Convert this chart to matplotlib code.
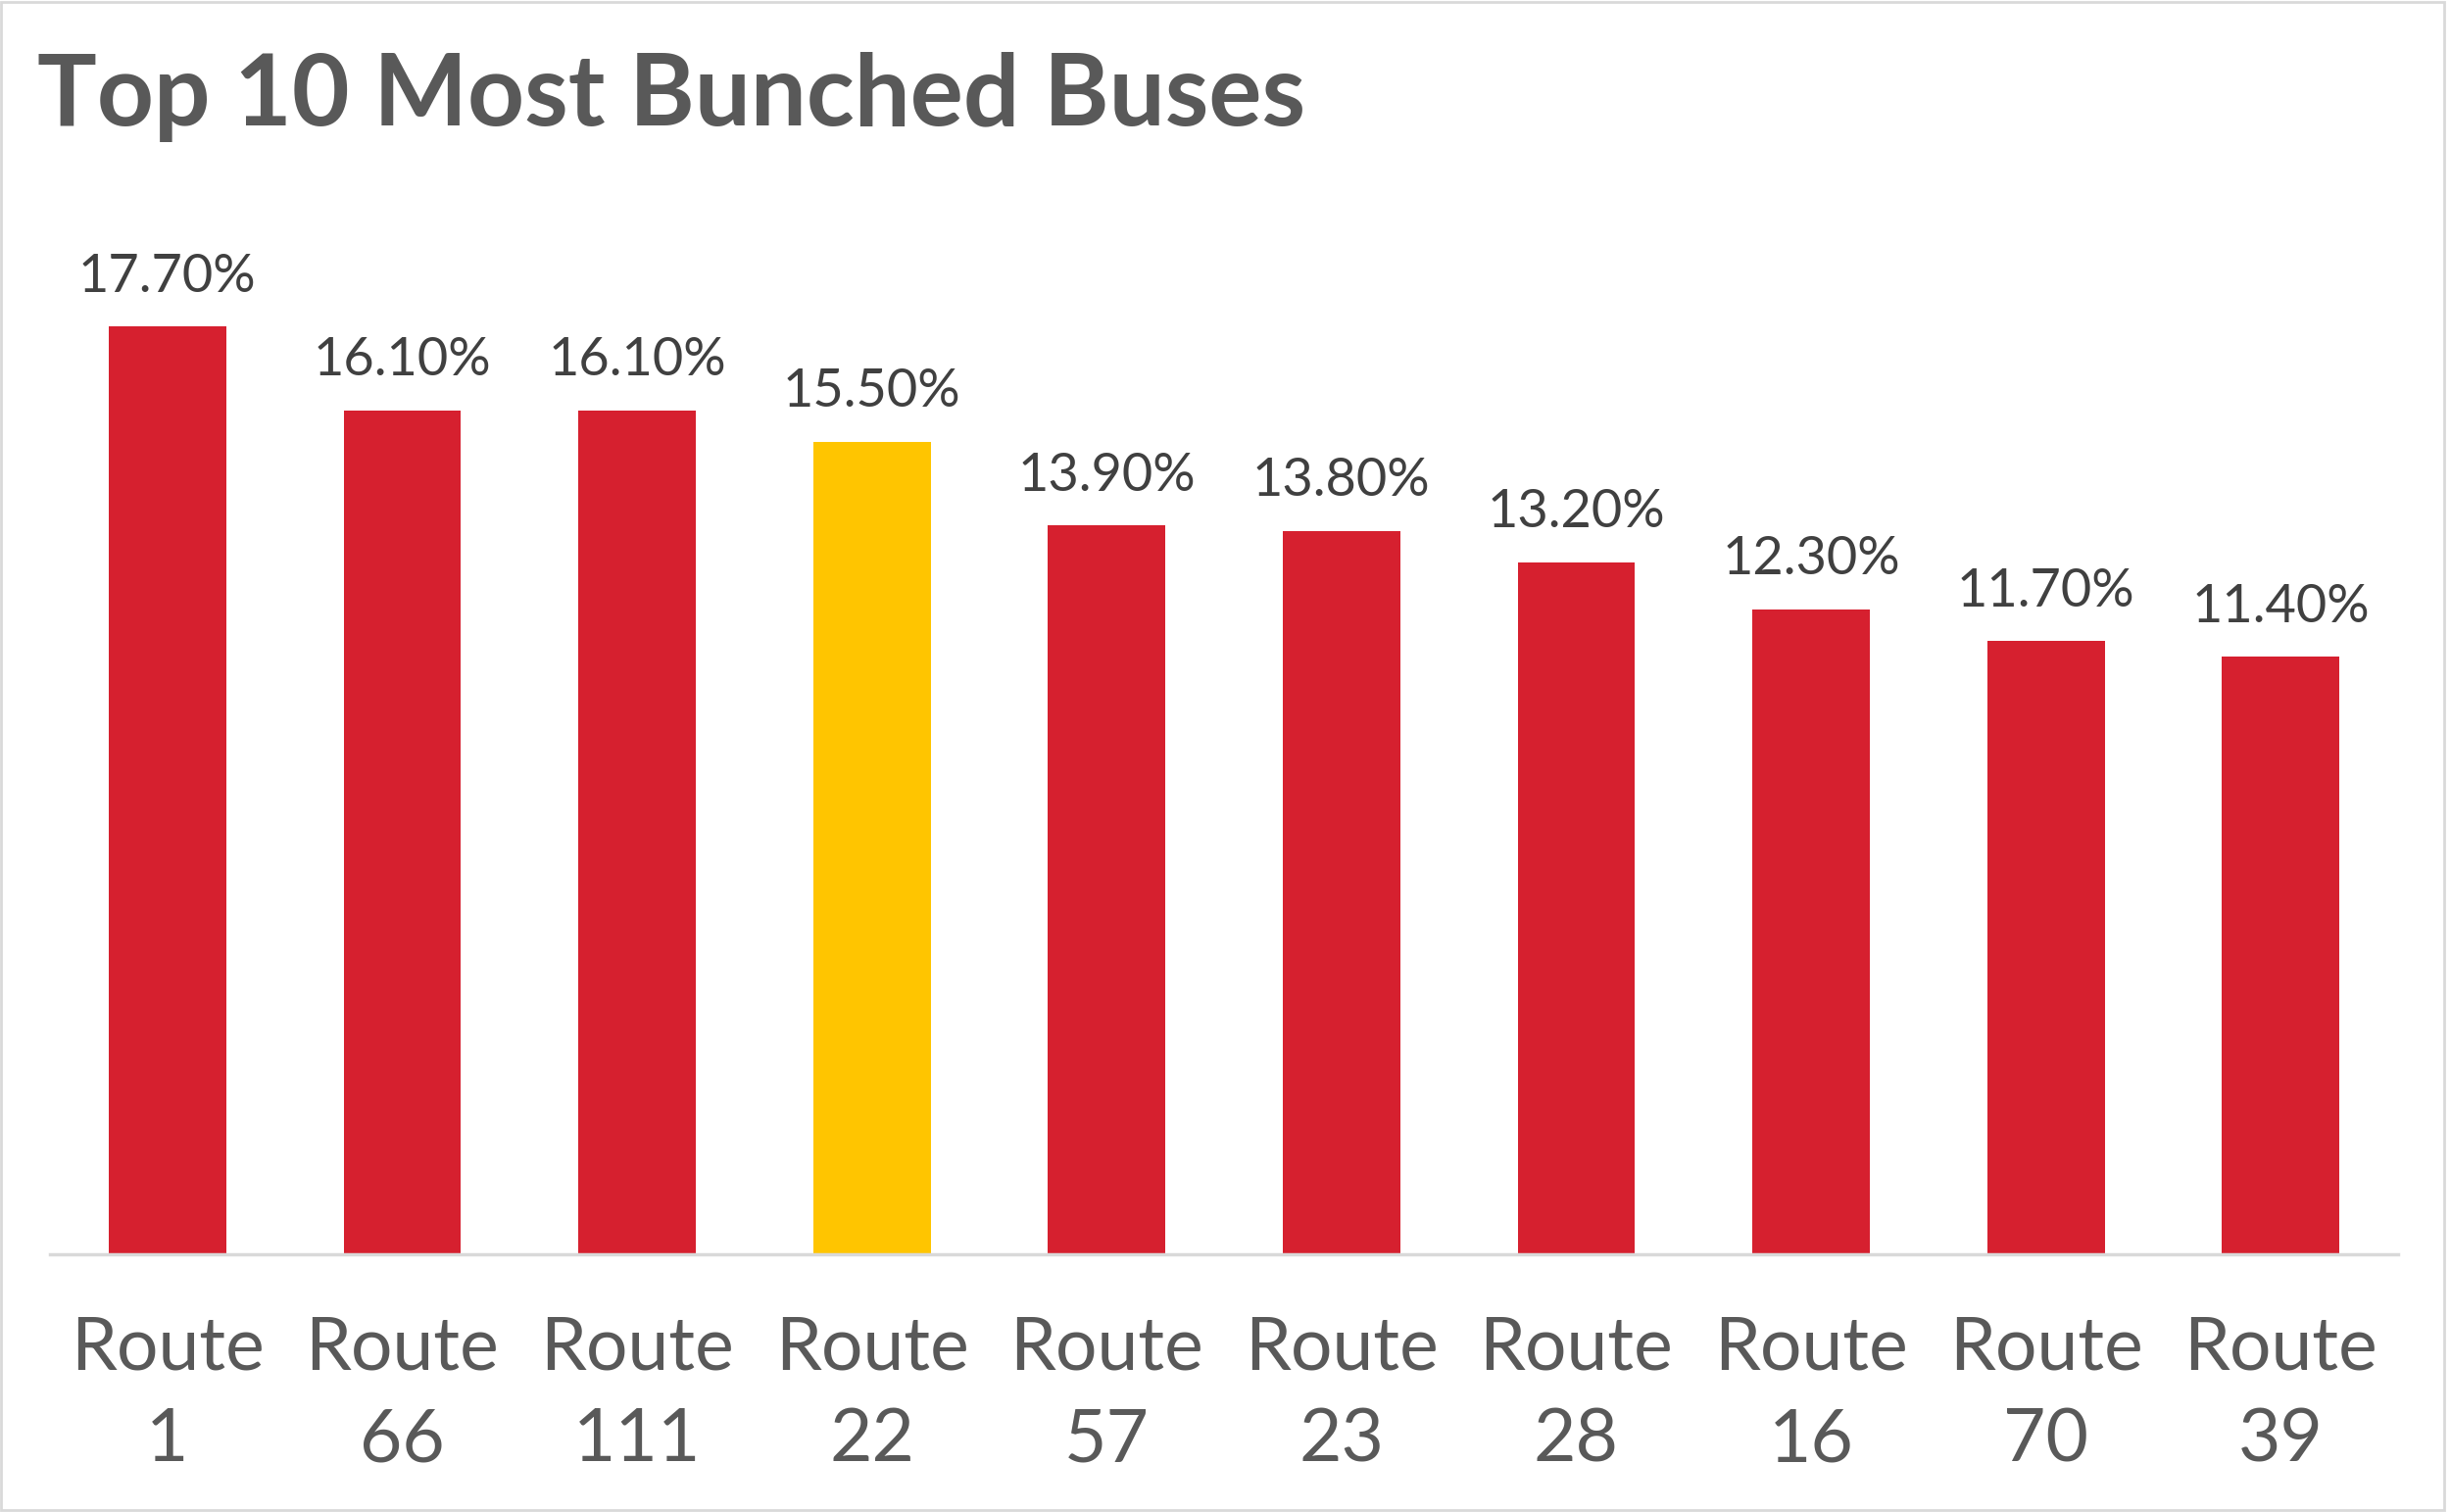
import matplotlib
matplotlib.use("Agg")
import matplotlib.pyplot as plt
from matplotlib.patches import Rectangle

# chart data
routes = ["Route\n1", "Route\n66", "Route\n111", "Route\n22", "Route\n57",
          "Route\n23", "Route\n28", "Route\n16", "Route\n70", "Route\n39"]
bunched = [17.7, 16.1, 16.1, 15.5, 13.9, 13.8, 13.2, 12.3, 11.7, 11.4]
highlight = "Route\n22"

red = "#D6202F"
yellow = "#FFC500"
colors = [yellow if r == highlight else red for r in routes]

plt.rcParams['font.family'] = ['Lato', 'DejaVu Sans']

fig = plt.figure(figsize=(25, 15.43), dpi=100)
ax = fig.add_axes([0.0204, 0.1704, 0.9584, 0.6936])

bars = ax.bar(range(len(routes)), bunched, width=0.5, color=colors)
ax.bar_label(bars, labels=[f"{v:.2f}%" for v in bunched], padding=19,
             fontsize=39, color="#404040")

ax.set_xlim(-0.5, len(routes) - 0.5)
ax.set_ylim(0, 20)
ax.set_xticks(range(len(routes)))
ax.set_xticklabels(routes, fontsize=54, color="#595959", linespacing=1.45)
ax.tick_params(axis='x', length=0, pad=44)
ax.set_yticks([])

for s in ["top", "right", "left"]:
    ax.spines[s].set_visible(False)
ax.spines["bottom"].set_color("#D9D9D9")
ax.spines["bottom"].set_linewidth(2.5)

fig.text(0.0152, 0.917, "Top 10 Most Bunched Buses", fontsize=73,
         fontweight="bold", color="#595959", va="baseline")

# thin light frame around the whole picture
fig.patches.append(Rectangle((0.0004, 0.0016), 0.9972, 0.9972,
                             transform=fig.transFigure, fill=False,
                             edgecolor="#D9D9D9", linewidth=2))

plt.savefig("out.png", dpi=100, facecolor="white")
